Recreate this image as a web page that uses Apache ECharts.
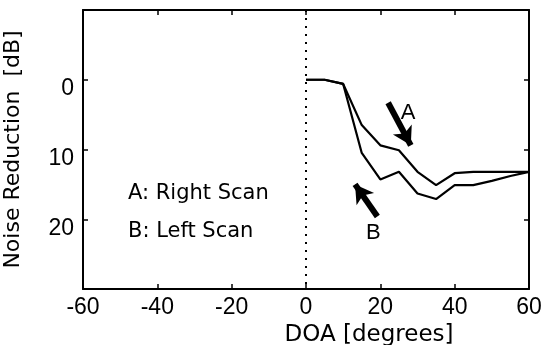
<!DOCTYPE html>
<html>
<head>
<meta charset="utf-8">
<script src="https://cdn.jsdelivr.net/npm/echarts@6/dist/echarts.min.js"></script>
<style>
  html, body { margin: 0; padding: 0; background: #fff; }
  #main { width: 544px; height: 345px; }
</style>
</head>
<body>
<div id="main"></div>
<script>
var doa = [0, 5, 10, 15, 20, 25, 30, 35, 40, 45, 50, 55, 60];
// A: Right Scan, B: Left Scan (noise reduction in dB)
var rightScan = [0, 0, 0.6, 6.5, 9.4, 10.1, 13.2, 15.1, 13.4, 13.2, 13.2, 13.2, 13.2];
var leftScan = [0, 0, 0.6, 10.5, 14.3, 13.2, 16.3, 17.1, 15.1, 15.1, 14.5, 13.8, 13.2];
var yTicks = [0, 10, 20];
var arrowA = [[22.1, 3.3], [28.2, 9.4]];
var arrowB = [[19.2, 19.6], [13.2, 15.0]];
var labelA = [27.5, 4.8];
var labelB = [18.1, 22.0];

var myChart = echarts.init(document.getElementById('main'));
var font = 'DejaVu Sans';
var tickFont = 'Liberation Sans';

function pairs(xs, ys) {
  return xs.map(function (x, i) { return [x, ys[i]]; });
}

var frameLine = { show: true, onZero: false, lineStyle: { color: '#000', width: 2 } };
var tick = { show: true, inside: true, length: 5, lineStyle: { color: '#000', width: 1.5 } };

var option = {
  animation: false,
  backgroundColor: '#fff',
  grid: { left: 83, right: 15, top: 10, bottom: 56, outerBoundsMode: 'none', containLabel: false },
  xAxis: [
    {
      type: 'value', min: -60, max: 60, interval: 20,
      axisLine: frameLine, axisTick: tick, splitLine: { show: false },
      axisLabel: { color: '#000', fontFamily: tickFont, fontSize: 23, margin: 7 },
      name: 'DOA [degrees]', nameLocation: 'middle', nameGap: 34,
      nameTextStyle: { color: '#000', fontFamily: font, fontSize: 23, padding: [0, 0, 0, 126] }
    },
    {
      type: 'value', position: 'top', min: -60, max: 60, interval: 20,
      axisLine: frameLine, axisTick: tick, axisLabel: { show: false }, splitLine: { show: false }
    }
  ],
  yAxis: [
    {
      type: 'value', inverse: true, min: -10, max: 30, interval: 10,
      axisLine: frameLine, axisTick: tick, splitLine: { show: false },
      axisLabel: {
        color: '#000', fontFamily: tickFont, fontSize: 23, margin: 9,
        verticalAlign: 'top', lineHeight: 18,
        formatter: function (v) { return yTicks.indexOf(v) >= 0 ? String(v) : ''; }
      },
      name: 'Noise Reduction  [dB]', nameLocation: 'middle', nameGap: 59, nameRotate: 90,
      nameTextStyle: { color: '#000', fontFamily: font, fontSize: 22 }
    },
    {
      type: 'value', position: 'right', inverse: true, min: -10, max: 30, interval: 10,
      axisLine: frameLine, axisTick: tick, axisLabel: { show: false }, splitLine: { show: false }
    }
  ],
  series: [
    {
      name: 'A', type: 'line', data: pairs(doa, rightScan), symbol: 'none',
      lineStyle: { color: '#000', width: 2.2 },
      markLine: {
        silent: true, symbol: 'none', label: { show: false },
        lineStyle: { color: '#000', type: [2, 6], width: 2 },
        data: [{ xAxis: 0 }]
      },
      markPoint: {
        silent: true, symbol: 'circle', symbolSize: 1,
        itemStyle: { color: 'rgba(0,0,0,0)' },
        label: {
          show: true, position: 'inside', formatter: '{b}',
          color: '#000', fontFamily: tickFont, fontSize: 22
        },
        data: [
          { name: 'A', coord: labelA },
          { name: 'B', coord: labelB }
        ]
      }
    },
    {
      name: 'B', type: 'line', data: pairs(doa, leftScan), symbol: 'none',
      lineStyle: { color: '#000', width: 2.2 },
      markLine: {
        silent: true, symbol: ['none', 'arrow'], symbolSize: [16, 18], label: { show: false },
        lineStyle: { color: '#000', type: 'solid', width: 6 },
        data: [
          [{ coord: arrowA[0] }, { coord: arrowA[1] }],
          [{ coord: arrowB[0] }, { coord: arrowB[1] }]
        ]
      }
    }
  ],
  graphic: [
    {
      type: 'text', left: 128, top: 183,
      style: { text: 'A: Right Scan', fill: '#000', font: '21px "DejaVu Sans"' }
    },
    {
      type: 'text', left: 128, top: 221,
      style: { text: 'B: Left Scan', fill: '#000', font: '21px "DejaVu Sans"' }
    }
  ]
};

myChart.setOption(option);
</script>
</body>
</html>
